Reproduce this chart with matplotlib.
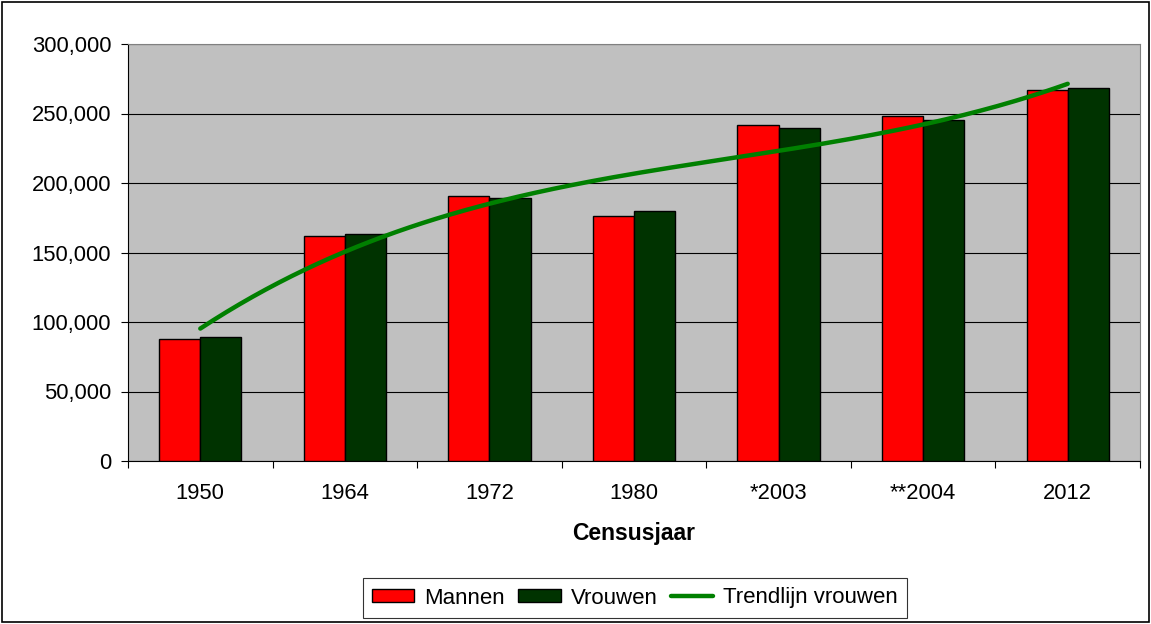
import matplotlib
matplotlib.use("Agg")
import matplotlib.pyplot as plt
from matplotlib.patches import Rectangle
from matplotlib.ticker import FuncFormatter
import numpy as np

plt.rcParams['font.family'] = ['Liberation Sans', 'DejaVu Sans']

years = ['1950', '1964', '1972', '1980', '*2003', '**2004', '2012']
mannen = [88000, 161700, 190600, 176100, 241900, 248100, 266600]
vrouwen = [89500, 163100, 189200, 180100, 239300, 245000, 268000]

x = np.arange(1, len(years) + 1)
bw = 0.285

# polynomial trendline (order 3) through the women's figures
coef = np.polyfit(x, vrouwen, 3)
xt = np.linspace(1, len(years), 200)
yt = np.polyval(coef, xt)

fig = plt.figure(figsize=(11.51, 6.24), dpi=100)
fig.patches.append(Rectangle((0.002, 0.003), 0.996, 0.994, transform=fig.transFigure,
                             fill=False, edgecolor='black', linewidth=1.2))
ax = fig.add_axes([128 / 1151, 1 - 461 / 624, (1140 - 128) / 1151, (461 - 44) / 624])
ax.set_facecolor('#C0C0C0')

b1 = ax.bar(x - bw / 2, mannen, bw, color='#FF0000', edgecolor='black', linewidth=1, label='Mannen', zorder=3)
b2 = ax.bar(x + bw / 2, vrouwen, bw, color='#003300', edgecolor='black', linewidth=1, label='Vrouwen', zorder=3)
tl, = ax.plot(xt, yt, color='#008000', linewidth=3.2, solid_capstyle='round', label='Trendlijn vrouwen', zorder=4)

ax.set_xlim(0.5, len(years) + 0.5)
ax.set_ylim(0, 300000)
ax.set_yticks(np.arange(0, 300001, 50000))
ax.yaxis.set_major_formatter(FuncFormatter(lambda v, p: f'{int(v):,}'))
ax.grid(axis='y', color='black', linewidth=0.8, zorder=1)
ax.set_axisbelow(True)

ax.set_xticks(x)
ax.set_xticklabels(years)
ax.set_xticks(np.arange(0.5, len(years) + 1), minor=True)
ax.tick_params(axis='x', which='major', length=0, pad=16, labelsize=15.8)
ax.tick_params(axis='x', which='minor', length=5, width=0.8, direction='out')
ax.tick_params(axis='y', length=5, width=0.8, direction='out', labelsize=15.8, pad=7)

for side in ['top', 'right']:
    ax.spines[side].set_color('#808080')
ax.spines['left'].set_color('black')
ax.spines['bottom'].set_color('black')

ax.set_xlabel('Censusjaar', fontsize=16.5, fontweight='bold', labelpad=13)

leg = ax.legend([b1, b2, tl], ['Mannen', 'Vrouwen', 'Trendlijn vrouwen'],
                loc='center', bbox_to_anchor=(635 / 1151, 1 - 598 / 624), bbox_transform=fig.transFigure,
                ncol=3, frameon=True, fancybox=False, edgecolor='black', fontsize=16,
                handlelength=1.9, handleheight=0.5, handletextpad=0.45, columnspacing=0.6,
                borderpad=0.42, borderaxespad=0)
leg.get_frame().set_linewidth(0.8)

fig.savefig('out.png', dpi=100)
